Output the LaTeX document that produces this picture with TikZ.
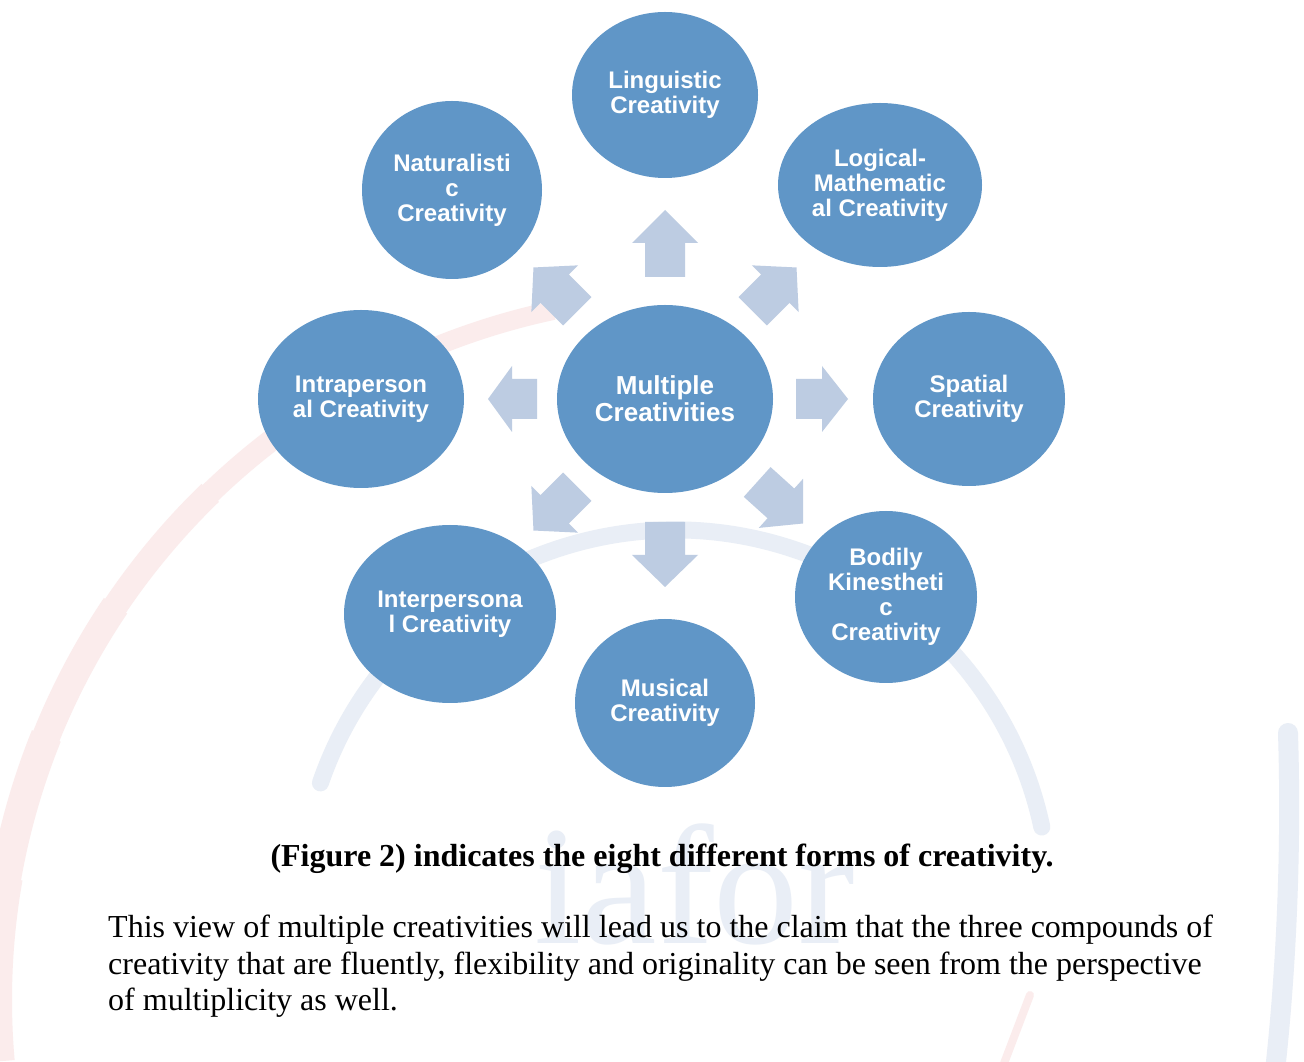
\documentclass[tikz,border=0pt]{standalone}
\usepackage{fontspec}
\setmainfont{Liberation Serif}
\newfontfamily\nodefont{Liberation Sans}
\usetikzlibrary{shapes.geometric}
\definecolor{ellblue}{HTML}{6096C7}
\definecolor{arrblue}{HTML}{BDCCE2}
\definecolor{wmblue}{HTML}{E9EEF6}
\definecolor{wmpink}{HTML}{FBECEC}
\newcommand\blkarr[4]{\fill[blockarr, shift={(mc.center)}, rotate=#1] (#2,-20) -- (#3,-20) -- (#3,-33) -- (#4,0) -- (#3,33) -- (#3,20) -- (#2,20) -- cycle;}
\newcommand\pinkseg[3]{\draw[wmpink, line width=#3] (700,61) ++(#1:705) arc[start angle=#1, end angle=#2, radius=705];}
\begin{document}
\begin{tikzpicture}[x=1pt,y=1pt,
  bubble/.style={ellipse, fill=ellblue, text=white, inner sep=0pt, align=center,
    font=\nodefont\bfseries\fontsize{24}{25}\selectfont},
  blockarr/.style={fill=arrblue},
  wmstroke/.style={line cap=round}]
\useasboundingbox (0,0) rectangle (1304,1061);
\clip (0,0) rectangle (1304,1061);
\fill[white] (0,0) rectangle (1304,1061);
% watermark
\pinkseg{185}{170}{34}
\pinkseg{170.5}{158}{31}
\pinkseg{158.5}{146}{28}
\pinkseg{146.5}{134}{25}
\pinkseg{134.5}{120}{22}
\pinkseg{120.5}{102}{19}
\draw[wmstroke, wmblue, line width=17] (675,156) ++(161:375) arc[start angle=161, end angle=12, radius=375];
\draw[wmstroke, wmblue, line width=20] (1288,328) .. controls (1292,200) and (1285,80) .. (1275,-10);
\draw[wmstroke, wmpink, line width=8] (1030,66) -- (1003,-5);
\node[text=wmblue, anchor=base, font=\fontsize{170}{170}\selectfont, inner sep=0pt] (iafor) at (695,118) {iafor};
% nodes
\node[bubble, minimum width=216, minimum height=188, font=\nodefont\bfseries\fontsize{26}{27}\selectfont] (mc) at (665,662) {Multiple\\Creativities};
\node[bubble, minimum width=186, minimum height=166] (ling) at (665,966) {Linguistic\\Creativity};
\node[bubble, minimum width=204, minimum height=164] (logic) at (880,876) {Logical-\\Mathematic\\al Creativity};
\node[bubble, minimum width=192, minimum height=174] (spat) at (969,662) {Spatial\\Creativity};
\node[bubble, minimum width=182, minimum height=172] (bod) at (886,464) {Bodily\\Kinestheti\\c\\Creativity};
\node[bubble, minimum width=180, minimum height=168] (mus) at (665,358) {Musical\\Creativity};
\node[bubble, minimum width=212, minimum height=178] (inter) at (450,447) {Interpersona\\l Creativity};
\node[bubble, minimum width=206, minimum height=178] (intra) at (361,662) {Intraperson\\al Creativity};
\node[bubble, minimum width=180, minimum height=178] (nat) at (452,871) {Naturalisti\\c\\Creativity};
% block arrows
\blkarr{90}{122}{156}{189}
\blkarr{0}{131}{157}{183}
\blkarr{180}{128}{153}{177}
\blkarr{270}{123}{156}{188}
\blkarr{45}{124}{156}{186}
\blkarr{135}{124}{156}{186}
\blkarr{225}{124}{156}{186}
\blkarr{318}{124}{156}{186}
% text
\node[anchor=base, inner sep=0pt, font=\bfseries\fontsize{32}{36}\selectfont] (cap) at (662,195) {(Figure 2) indicates the eight different forms of creativity.};
\node[anchor=base west, inner sep=0pt, font=\fontsize{32}{37}\selectfont] (b1) at (108,124) {This view of multiple creativities will lead us to the claim that the three compounds of};
\node[anchor=base west, inner sep=0pt, font=\fontsize{32}{37}\selectfont] (b2) at (108,87) {creativity that are fluently, flexibility and originality can be seen from the perspective};
\node[anchor=base west, inner sep=0pt, font=\fontsize{32}{37}\selectfont] (b3) at (108,51) {of multiplicity as well.};
\end{tikzpicture}
\end{document}
